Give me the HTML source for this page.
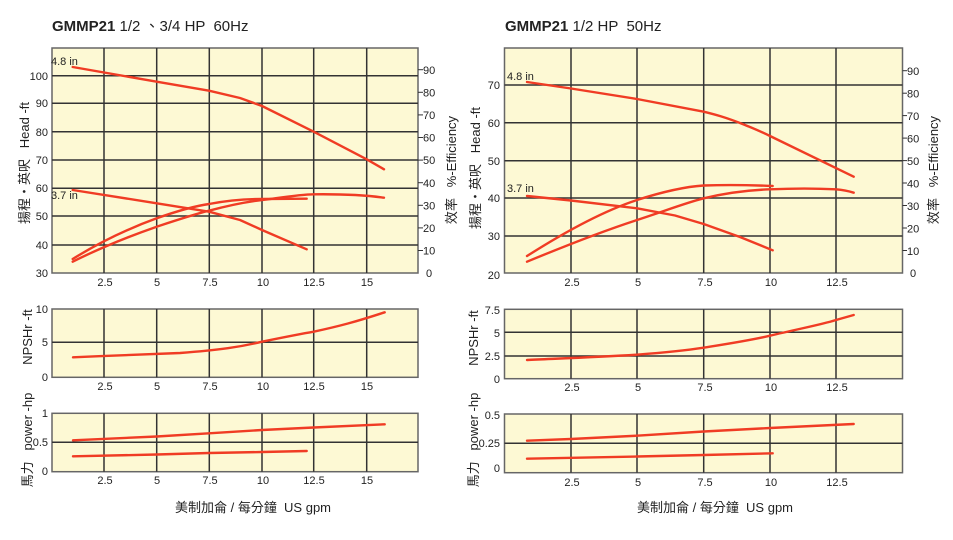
<!DOCTYPE html>
<html><head><meta charset="utf-8"><style>
html,body{margin:0;padding:0;background:#fff;}
svg{display:block;}
text{font-family:"Liberation Sans","Noto Sans CJK TC",sans-serif;fill:#222;white-space:pre;}
.t{font-size:11px;}
.g{stroke:#333;stroke-width:1.5;fill:none;}
.c{stroke:#f03c24;stroke-width:2.4;fill:none;stroke-linecap:round;stroke-linejoin:round;}
.bg{fill:#fdf9d4;stroke:#666;stroke-width:1.5;}
.lab{font-size:13px;}
</style></head><body>
<svg width="953" height="540" viewBox="0 0 953 540" xmlns="http://www.w3.org/2000/svg" xml:space="preserve">
<text x="52" y="31" style="font-size:15px"><tspan font-weight="bold">GMMP21</tspan> 1/2 、3/4 HP  60Hz</text>
<text x="505" y="31" style="font-size:15px"><tspan font-weight="bold">GMMP21</tspan> 1/2 HP  50Hz</text>

<rect class="bg" x="52" y="48" width="366" height="225"/>
<g class="g">
<line x1="104" y1="48" x2="104" y2="273"/><line x1="156.7" y1="48" x2="156.7" y2="273"/><line x1="209.3" y1="48" x2="209.3" y2="273"/><line x1="262" y1="48" x2="262" y2="273"/><line x1="313.7" y1="48" x2="313.7" y2="273"/><line x1="366.7" y1="48" x2="366.7" y2="273"/>
<line x1="52" y1="75.7" x2="418" y2="75.7"/><line x1="52" y1="103.3" x2="418" y2="103.3"/><line x1="52" y1="131.7" x2="418" y2="131.7"/><line x1="52" y1="160" x2="418" y2="160"/><line x1="52" y1="188.3" x2="418" y2="188.3"/><line x1="52" y1="216" x2="418" y2="216"/><line x1="52" y1="245" x2="418" y2="245"/>
</g>
<g class="t" text-anchor="end">
<text x="48" y="80">100</text><text x="48" y="107">90</text><text x="48" y="136">80</text><text x="48" y="164">70</text><text x="48" y="192">60</text><text x="48" y="220">50</text><text x="48" y="249">40</text><text x="48" y="277">30</text>
</g>
<g stroke="#333" stroke-width="1"><line x1="418" y1="69.7" x2="423" y2="69.7"/><line x1="418" y1="92.3" x2="423" y2="92.3"/><line x1="418" y1="114.9" x2="423" y2="114.9"/><line x1="418" y1="137.5" x2="423" y2="137.5"/><line x1="418" y1="160.1" x2="423" y2="160.1"/><line x1="418" y1="182.7" x2="423" y2="182.7"/><line x1="418" y1="205.3" x2="423" y2="205.3"/><line x1="418" y1="227.9" x2="423" y2="227.9"/><line x1="418" y1="250.5" x2="423" y2="250.5"/></g>
<g class="t">
<text x="423" y="74">90</text><text x="423" y="96.5">80</text><text x="423" y="119">70</text><text x="423" y="141.5">60</text><text x="423" y="164">50</text><text x="423" y="187">40</text><text x="423" y="209.5">30</text><text x="423" y="232">20</text><text x="423" y="254.5">10</text><text x="426" y="277">0</text>
</g>
<g class="t" text-anchor="middle">
<text x="105" y="286">2.5</text><text x="157" y="286">5</text><text x="210" y="286">7.5</text><text x="263" y="286">10</text><text x="314" y="286">12.5</text><text x="367" y="286">15</text>
</g>
<text class="t" x="51" y="65">4.8 in</text><text class="t" x="51" y="199">3.7 in</text>
<polyline class="c" points="72.7,67 156.7,81.7 209,90.7 240,98 262,106 313.7,131.7 366.7,159.3 384,169.3"/>
<polyline class="c" points="72.7,190 156.7,203.3 209,211.7 240,220 262,230 306.7,249.3"/>
<path class="c" d="M72.7,259 C100,242 130,228 156.7,218.3 C180,210 195,206 209,204 C230,200 245,199 262,199 L306.7,198.7"/>
<path class="c" d="M72.7,261.7 C100,248 130,236 156.7,226.7 C180,219 195,214 209,210.7 C230,205 245,202 262,200 C285,197 300,194.5 313.7,194.3 C340,194 365,195 384,197.7"/>
<text class="lab" transform="translate(29,163) rotate(-90)" text-anchor="middle">揚程・英呎   Head -ft</text>
<text class="lab" transform="translate(456,170) rotate(-90)" text-anchor="middle">效率   %-Efficiency</text>

<rect class="bg" x="52" y="309" width="366" height="68.3"/>
<g class="g">
<line x1="104" y1="309" x2="104" y2="377.3"/><line x1="156.7" y1="309" x2="156.7" y2="377.3"/><line x1="209.3" y1="309" x2="209.3" y2="377.3"/><line x1="262" y1="309" x2="262" y2="377.3"/><line x1="313.7" y1="309" x2="313.7" y2="377.3"/><line x1="366.7" y1="309" x2="366.7" y2="377.3"/>
<line x1="52" y1="342.3" x2="418" y2="342.3"/>
</g>
<g class="t" text-anchor="end"><text x="48" y="313">10</text><text x="48" y="346">5</text><text x="48" y="381">0</text></g>
<g class="t" text-anchor="middle"><text x="105" y="390">2.5</text><text x="157" y="390">5</text><text x="210" y="390">7.5</text><text x="263" y="390">10</text><text x="314" y="390">12.5</text><text x="367" y="390">15</text></g>
<path class="c" d="M73,357.3 C110,355.5 150,354.5 180,353 C220,350 240,347 262,341.7 C290,336 300,334 313.7,331.7 C340,326 355,322 384.7,312.3"/>
<text class="lab" transform="translate(32,337) rotate(-90)" text-anchor="middle">NPSHr -ft</text>

<rect class="bg" x="52" y="413.3" width="366" height="58.4"/>
<g class="g">
<line x1="104" y1="413.3" x2="104" y2="471.7"/><line x1="156.7" y1="413.3" x2="156.7" y2="471.7"/><line x1="209.3" y1="413.3" x2="209.3" y2="471.7"/><line x1="262" y1="413.3" x2="262" y2="471.7"/><line x1="313.7" y1="413.3" x2="313.7" y2="471.7"/><line x1="366.7" y1="413.3" x2="366.7" y2="471.7"/>
<line x1="52" y1="442.3" x2="418" y2="442.3"/>
</g>
<g class="t" text-anchor="end"><text x="48" y="417">1</text><text x="48" y="446">0.5</text><text x="48" y="475">0</text></g>
<g class="t" text-anchor="middle"><text x="105" y="484">2.5</text><text x="157" y="484">5</text><text x="210" y="484">7.5</text><text x="263" y="484">10</text><text x="314" y="484">12.5</text><text x="367" y="484">15</text></g>
<polyline class="c" points="73,440.3 156.7,436.5 209,433.3 262,430 313.7,427.5 384.7,424.3"/>
<polyline class="c" points="73,456.3 156.7,454.5 209,453 262,452 306.7,451"/>
<text class="lab" transform="translate(32,440) rotate(-90)" text-anchor="middle">馬力   power -hp</text>
<text class="lab" x="253" y="512" text-anchor="middle">美制加侖 / 每分鐘  US gpm</text>

<rect class="bg" x="504.5" y="48" width="398" height="225"/>
<g class="g">
<line x1="571" y1="48" x2="571" y2="273"/><line x1="637" y1="48" x2="637" y2="273"/><line x1="703.7" y1="48" x2="703.7" y2="273"/><line x1="770" y1="48" x2="770" y2="273"/><line x1="836" y1="48" x2="836" y2="273"/>
<line x1="504.5" y1="85" x2="902.5" y2="85"/><line x1="504.5" y1="122.7" x2="902.5" y2="122.7"/><line x1="504.5" y1="160.7" x2="902.5" y2="160.7"/><line x1="504.5" y1="198" x2="902.5" y2="198"/><line x1="504.5" y1="236" x2="902.5" y2="236"/>
</g>
<g class="t" text-anchor="end">
<text x="500" y="89">70</text><text x="500" y="127">60</text><text x="500" y="165">50</text><text x="500" y="202">40</text><text x="500" y="240">30</text><text x="500" y="279">20</text>
</g>
<g stroke="#333" stroke-width="1"><line x1="902.5" y1="70.7" x2="907" y2="70.7"/><line x1="902.5" y1="93.2" x2="907" y2="93.2"/><line x1="902.5" y1="115.6" x2="907" y2="115.6"/><line x1="902.5" y1="138.1" x2="907" y2="138.1"/><line x1="902.5" y1="160.6" x2="907" y2="160.6"/><line x1="902.5" y1="183" x2="907" y2="183"/><line x1="902.5" y1="205.5" x2="907" y2="205.5"/><line x1="902.5" y1="228" x2="907" y2="228"/><line x1="902.5" y1="250.5" x2="907" y2="250.5"/></g>
<g class="t">
<text x="907" y="75">90</text><text x="907" y="97.5">80</text><text x="907" y="120">70</text><text x="907" y="142.5">60</text><text x="907" y="165">50</text><text x="907" y="187.5">40</text><text x="907" y="210">30</text><text x="907" y="232.5">20</text><text x="907" y="255">10</text><text x="910" y="277">0</text>
</g>
<g class="t" text-anchor="middle">
<text x="572" y="286">2.5</text><text x="638" y="286">5</text><text x="705" y="286">7.5</text><text x="771" y="286">10</text><text x="837" y="286">12.5</text>
</g>
<text class="t" x="507" y="80">4.8 in</text><text class="t" x="507" y="192">3.7 in</text>
<path class="c" d="M527,82 L571,88.5 L637,99 L703.7,111.7 C715,114.5 725,117 745,125 C760,131 765,133.5 770,136 L853.7,176.7"/>
<polyline class="c" points="527,196 571,200.5 637,208.3 675,215.5 703.7,224 740,237 772.7,250.3"/>
<path class="c" d="M527,256 C560,235 600,212 637,200 C665,191 685,186.7 703.7,185.5 C730,184.5 750,185 772.7,186"/>
<path class="c" d="M527,261.7 C560,248 600,232 637,220 C665,211 685,203 703.7,198.3 C730,192 750,190 770,189.3 C800,188 820,188.5 836,189.3 C845,190 850,191.5 853.7,192.7"/>
<text class="lab" transform="translate(480,168) rotate(-90)" text-anchor="middle">揚程・英呎   Head -ft</text>
<text class="lab" transform="translate(938,170) rotate(-90)" text-anchor="middle">效率   %-Efficiency</text>

<rect class="bg" x="504.5" y="309.3" width="398" height="69.4"/>
<g class="g">
<line x1="571" y1="309.3" x2="571" y2="378.7"/><line x1="637" y1="309.3" x2="637" y2="378.7"/><line x1="703.7" y1="309.3" x2="703.7" y2="378.7"/><line x1="770" y1="309.3" x2="770" y2="378.7"/><line x1="836" y1="309.3" x2="836" y2="378.7"/>
<line x1="504.5" y1="332.3" x2="902.5" y2="332.3"/><line x1="504.5" y1="356" x2="902.5" y2="356"/>
</g>
<g class="t" text-anchor="end"><text x="500" y="314">7.5</text><text x="500" y="337">5</text><text x="500" y="360">2.5</text><text x="500" y="383">0</text></g>
<g class="t" text-anchor="middle"><text x="572" y="391">2.5</text><text x="638" y="391">5</text><text x="705" y="391">7.5</text><text x="771" y="391">10</text><text x="837" y="391">12.5</text></g>
<path class="c" d="M527,360 C560,358.5 600,357 637,354.7 C665,352.5 685,350.5 703.7,347.7 C730,343.5 750,340.5 770,335.7 C800,328.5 820,325 836,320 L853.7,315"/>
<text class="lab" transform="translate(478,338) rotate(-90)" text-anchor="middle">NPSHr -ft</text>

<rect class="bg" x="504.5" y="414" width="398" height="58.7"/>
<g class="g">
<line x1="571" y1="414" x2="571" y2="472.7"/><line x1="637" y1="414" x2="637" y2="472.7"/><line x1="703.7" y1="414" x2="703.7" y2="472.7"/><line x1="770" y1="414" x2="770" y2="472.7"/><line x1="836" y1="414" x2="836" y2="472.7"/>
<line x1="504.5" y1="443.3" x2="902.5" y2="443.3"/>
</g>
<g class="t" text-anchor="end"><text x="500" y="419">0.5</text><text x="500" y="447">0.25</text><text x="500" y="472">0</text></g>
<g class="t" text-anchor="middle"><text x="572" y="486">2.5</text><text x="638" y="486">5</text><text x="705" y="486">7.5</text><text x="771" y="486">10</text><text x="837" y="486">12.5</text></g>
<polyline class="c" points="527,440.7 571,439 637,435.7 703.7,431.5 770,428 853.7,424"/>
<polyline class="c" points="527,458.7 637,456.5 703.7,455 772.7,453.3"/>
<text class="lab" transform="translate(478,440) rotate(-90)" text-anchor="middle">馬力   power -hp</text>
<text class="lab" x="715" y="512" text-anchor="middle">美制加侖 / 每分鐘  US gpm</text>
</svg>
</body></html>
